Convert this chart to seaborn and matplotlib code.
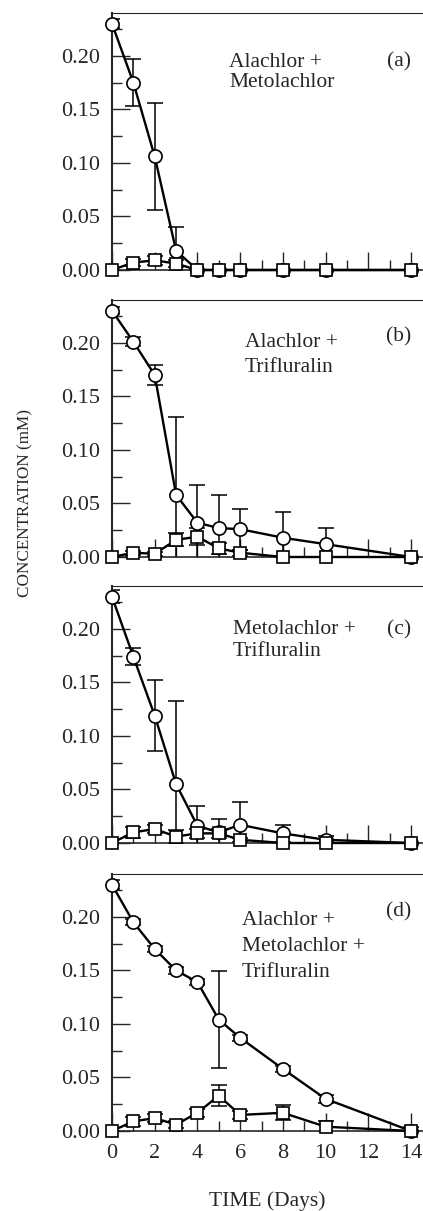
import numpy as np
import pandas as pd
import matplotlib
matplotlib.use("Agg")
import matplotlib.pyplot as plt
from matplotlib.ticker import MultipleLocator, FormatStrFormatter
import seaborn as sns

sns.set_style("ticks")
plt.rcParams['font.family'] = ['Liberation Serif', 'DejaVu Serif']

# sampling days
days = [0, 1, 2, 3, 4, 5, 6, 8, 10, 14]

# (a) Alachlor + Metolachlor
a_circ = [0.230, 0.175, 0.106, 0.018, 0, 0, 0, 0, 0, 0]
a_circ_err = [0.004, 0.022, 0.050, 0.022, 0, 0, 0, 0, 0, 0]
a_sq = [0, 0.007, 0.009, 0.006, 0, 0, 0, 0, 0, 0]
a_sq_err = [0, 0.003, 0.004, 0.003, 0, 0, 0, 0, 0, 0]

# (b) Alachlor + Trifluralin
b_circ = [0.230, 0.201, 0.170, 0.058, 0.032, 0.027, 0.026, 0.018, 0.012, 0]
b_circ_err = [0.003, 0.004, 0.009, 0.073, 0.035, 0.031, 0.019, 0.024, 0.015, 0]
b_sq = [0, 0.004, 0.003, 0.016, 0.019, 0.008, 0.004, 0, 0, 0]
b_sq_err = [0, 0.002, 0.002, 0.006, 0.008, 0.005, 0.003, 0, 0, 0]

# (c) Metolachlor + Trifluralin
c_circ = [0.230, 0.174, 0.119, 0.055, 0.016, 0.010, 0.017, 0.009, 0.003, 0]
c_circ_err = [0.006, 0.008, 0.033, 0.078, 0.019, 0.012, 0.021, 0.008, 0.004, 0]
c_sq = [0, 0.010, 0.013, 0.006, 0.009, 0.009, 0.003, 0, 0, 0]
c_sq_err = [0, 0.005, 0.004, 0.006, 0.004, 0.004, 0.002, 0, 0, 0]

# (d) Alachlor + Metolachlor + Trifluralin
d_circ = [0.230, 0.195, 0.170, 0.150, 0.139, 0.104, 0.087, 0.058, 0.030, 0]
d_circ_err = [0.004, 0.003, 0.003, 0.003, 0.003, 0.045, 0.003, 0.003, 0.004, 0]
d_sq = [0, 0.009, 0.012, 0.006, 0.017, 0.033, 0.015, 0.017, 0.004, 0]
d_sq_err = [0, 0.004, 0.004, 0.003, 0.004, 0.010, 0.004, 0.007, 0.005, 0.004]

panel_tags = ['(a)', '(b)', '(c)', '(d)']
panel_text = [['Alachlor +', 'Metolachlor'],
              ['Alachlor +', 'Trifluralin'],
              ['Metolachlor +', 'Trifluralin'],
              ['Alachlor +', 'Metolachlor +', 'Trifluralin']]

panels = [(a_circ, a_circ_err, a_sq, a_sq_err),
          (b_circ, b_circ_err, b_sq, b_sq_err),
          (c_circ, c_circ_err, c_sq, c_sq_err),
          (d_circ, d_circ_err, d_sq, d_sq_err)]

# layout (pixel based, from the reference)
W, H = 423, 1211
bottoms_px = [270, 557, 843, 1131]
text_x = [5.48, 6.23, 5.67, 6.09]
text_y = [[0.194, 0.175], [0.200, 0.177], [0.199, 0.1785], [0.197, 0.172, 0.148]]
tag_y = [0.194, 0.206, 0.199, 0.205]

fig = plt.figure(figsize=(W / 100, H / 100), dpi=100)

for i, (circ, circ_err, sq, sq_err) in enumerate(panels):
    ax = fig.add_axes([112 / W, 1 - bottoms_px[i] / H, 311 / W, 257 / H])

    ax.errorbar(days, circ, yerr=circ_err, fmt='none', ecolor='black',
                elinewidth=1.1, capsize=6, capthick=1.1, zorder=2)
    ax.errorbar(days, sq, yerr=sq_err, fmt='none', ecolor='black',
                elinewidth=1.1, capsize=6, capthick=1.1, zorder=2)

    sns.lineplot(x=days, y=circ, ax=ax, color='black', lw=1.7, marker='o',
                 markersize=9.5, mfc='white', mec='black', mew=1.2,
                 clip_on=False, zorder=3)
    sns.lineplot(x=days, y=sq, ax=ax, color='black', lw=1.7, marker='s',
                 markersize=8.5, mfc='white', mec='black', mew=1.2,
                 clip_on=False, zorder=4)

    ax.set_xlim(0, 14.56)
    ax.set_ylim(0, 0.24)
    ax.xaxis.set_major_locator(MultipleLocator(2))
    ax.xaxis.set_minor_locator(MultipleLocator(1))
    ax.yaxis.set_major_locator(MultipleLocator(0.05))
    ax.yaxis.set_minor_locator(MultipleLocator(0.025))
    ax.yaxis.set_major_formatter(FormatStrFormatter('%.2f'))
    ax.tick_params(which='major', direction='in', length=13, width=1.0,
                   labelsize=16, top=False, right=False)
    ax.tick_params(which='minor', direction='in', length=7, width=1.0,
                   top=False, right=False)
    ax.tick_params(axis='y', pad=8.5)
    ax.tick_params(axis='x', pad=9)
    if i < 3:
        ax.tick_params(axis='x', labelbottom=False)

    ax.spines['right'].set_visible(False)
    ax.spines['left'].set_linewidth(1.5)
    ax.spines['bottom'].set_linewidth(1.2)
    ax.spines['top'].set_linewidth(0.8)
    ax.set_xlabel('')
    ax.set_ylabel('')

    for line, y in zip(panel_text[i], text_y[i]):
        ax.text(text_x[i], y, line, fontsize=15.5, ha='left', va='center')
    ax.text(14.0, tag_y[i], panel_tags[i], fontsize=15.5, ha='right', va='center')

    if i == 3:
        ax.set_xlabel('TIME (Days)', fontsize=15.5, labelpad=21)

fig.text(25 / W, 1 - 503 / H, 'CONCENTRATION (mM)', rotation=90,
         fontsize=12.3, ha='center', va='center')

fig.savefig('out.png', dpi=100)
